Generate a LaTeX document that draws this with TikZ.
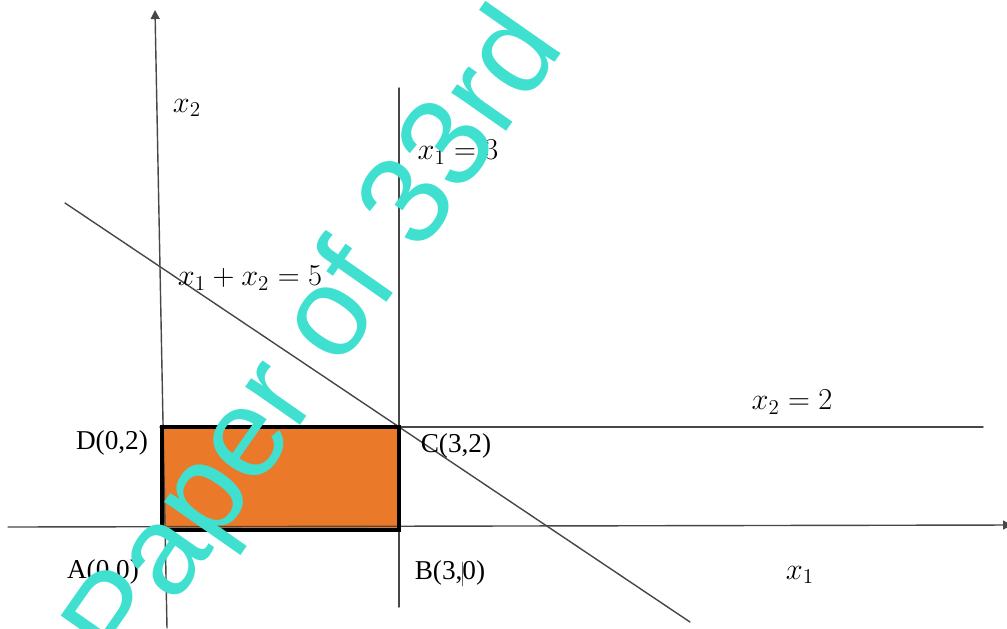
\documentclass[tikz,border=0pt]{standalone}
\usepackage{amsmath}
\usepackage{fontspec}
\setmainfont{Liberation Serif}
\newfontfamily\wmfont{Liberation Sans}
\usetikzlibrary{arrows.meta}
\definecolor{regionorange}{RGB}{234,122,42}
\definecolor{wmturq}{RGB}{64,224,208}

\begin{document}
\begin{tikzpicture}[x=0.2mm,y=-0.2mm,>={Triangle[length=1.8mm,width=1.8mm]},line cap=round,
  axisline/.style={black!72,line width=0.8pt},
  ptlabel/.style={font=\fontsize{15.5}{18}\selectfont},
  eqlabel/.style={font=\fontsize{16.5}{19}\selectfont},
  wmtext/.style={text=wmturq,font=\wmfont\fontsize{72}{80}\selectfont,inner sep=0pt}]
\useasboundingbox (0,0) rectangle (1007,628);
% feasible region ABCD
\coordinate (A) at (162,530);
\coordinate (B) at (399,530);
\coordinate (C) at (399,427);
\coordinate (D) at (162,427);
\fill[regionorange] (A) rectangle (C);
% constraint lines
\draw[axisline] (65,203) -- (690,622);
\draw[axisline] (399,88) -- (399,607);
\draw[axisline] (160,427) -- (983,427);
% axes
\draw[axisline,->] (8,527) -- (1012,525);
\draw[axisline,->] (167,628) -- (155,10);
\draw[line width=2.2pt,line join=miter] (A) -- (B) -- (C) -- (D) -- cycle;
% labels
\node[eqlabel] (lx2) at (187,108) {$x_2$};
\node[eqlabel] (lx1) at (800,575) {$x_1$};
\node[eqlabel] (eqa) at (458,152) {$x_1 = 3$};
\node[eqlabel] (eqb) at (250,278) {$x_1 + x_2 = 5$};
\node[eqlabel] (eqc) at (792,402) {$x_2 = 2$};
\node[ptlabel] (lD) at (112,443) {D(0,2)};
\node[ptlabel] (lC) at (456,446) {C(3,2)};
\node[ptlabel] (lA) at (103,572) {A(0,0)};
\node[ptlabel] (lB) at (450,573) {B(3,0)};
\draw[black!60,line width=0.4pt] (462,562) -- (462,586);
% watermark
\node[wmtext,rotate=55,anchor=base west] (wm) at (126,675) {Paper of 33rd};
\end{tikzpicture}
\end{document}
